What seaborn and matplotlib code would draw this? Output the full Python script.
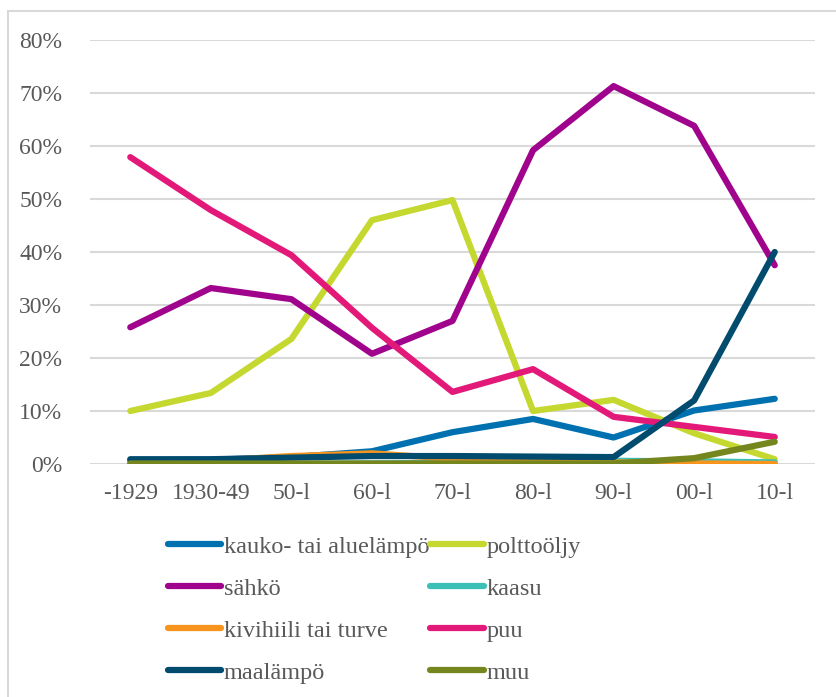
import matplotlib
matplotlib.use("Agg")
import matplotlib.pyplot as plt
import seaborn as sns
import pandas as pd
from matplotlib.ticker import PercentFormatter
from matplotlib.lines import Line2D

categories = ["-1929", "1930-49", "50-l", "60-l", "70-l", "80-l", "90-l", "00-l", "10-l"]

kauko = [0.7, 0.8, 1.3, 2.4, 6.0, 8.5, 5.0, 10.1, 12.3]
polttooljy = [10.0, 13.4, 23.6, 46.0, 49.8, 10.0, 12.1, 5.8, 0.9]
sahko = [25.8, 33.2, 31.1, 20.8, 27.0, 59.2, 71.3, 63.8, 37.5]
kaasu = [0.0, 0.0, 0.0, 0.1, 0.2, 0.3, 0.6, 0.5, 0.3]
kivihiili = [0.3, 0.6, 1.5, 2.0, 1.0, 0.6, 0.3, 0.1, 0.0]
puu = [57.9, 47.9, 39.4, 25.7, 13.6, 17.9, 8.9, 7.0, 5.1]
maalampo = [0.9, 0.9, 1.2, 1.5, 1.5, 1.4, 1.3, 12.0, 40.0]
muu = [0.1, 0.1, 0.1, 0.1, 0.1, 0.1, 0.1, 1.1, 4.2]

series_names = ["kauko- tai aluelämpö", "polttoöljy", "sähkö", "kaasu",
                "kivihiili tai turve", "puu", "maalämpö", "muu"]
series_values = [kauko, polttooljy, sahko, kaasu, kivihiili, puu, maalampo, muu]
series_colors = ["#0071B0", "#C4D82F", "#A0048C", "#3BBFB6",
                 "#F7941D", "#E3197A", "#004B6E", "#76861E"]

rows = []
for name, vals in zip(series_names, series_values):
    for i, (cat, v) in enumerate(zip(categories, vals)):
        rows.append({"pos": i, "kausi": cat, "lämmitys": name, "osuus": v / 100})
df = pd.DataFrame(rows)

sns.set_theme(style="white")
plt.rcParams["font.family"] = ["Liberation Serif", "DejaVu Serif"]

fig = plt.figure(figsize=(8.37, 6.97), dpi=100)
# chart frame: only the top and left edges are visible
frame_kw = dict(transform=fig.transFigure, color="#D9D9D9", linewidth=1.5)
fig.lines.append(Line2D([8.5 / 837, 1], [1 - 10.5 / 697] * 2, **frame_kw))
fig.lines.append(Line2D([8.5 / 837] * 2, [0, 1 - 10.5 / 697], **frame_kw))

ax = fig.add_axes([90 / 837, 1 - 464 / 697, 725 / 837, 424 / 697])
palette = dict(zip(series_names, series_colors))
sns.lineplot(data=df, x="pos", y="osuus", hue="lämmitys", hue_order=series_names,
             palette=palette, linewidth=4.5, legend=False, ax=ax,
             solid_capstyle="round", solid_joinstyle="round")

ax.set_xlim(-0.5, len(categories) - 0.5)
ax.set_ylim(0, 0.8)
ax.set_yticks([i / 10 for i in range(9)])
ax.yaxis.set_major_formatter(PercentFormatter(1.0, decimals=0))
ax.set_xticks(range(len(categories)))
ax.set_xticklabels(categories)
ax.set_xlabel("")
ax.set_ylabel("")
ax.grid(axis="y", color="#D9D9D9", linewidth=1.5)
ax.set_axisbelow(True)
for s in ax.spines.values():
    s.set_visible(False)
ax.tick_params(axis="both", labelsize=17, colors="#595959", length=0)
ax.tick_params(axis="y", pad=20)
ax.tick_params(axis="x", pad=14)

legend_order = ["kauko- tai aluelämpö", "sähkö", "kivihiili tai turve", "maalämpö",
                "polttoöljy", "kaasu", "puu", "muu"]
handles = [Line2D([], [], color=palette[n], linewidth=4.5, solid_capstyle="round")
           for n in legend_order]
leg = fig.legend(handles, legend_order, loc="upper left",
                 bbox_to_anchor=(158 / 837, 1 - 526 / 697), ncol=2, frameon=False,
                 fontsize=17.5, handlelength=2.2, handletextpad=0.1,
                 columnspacing=0.05, labelspacing=0.82, borderaxespad=0)
for t in leg.get_texts():
    t.set_color("#595959")

fig.savefig("out.png", dpi=100)
